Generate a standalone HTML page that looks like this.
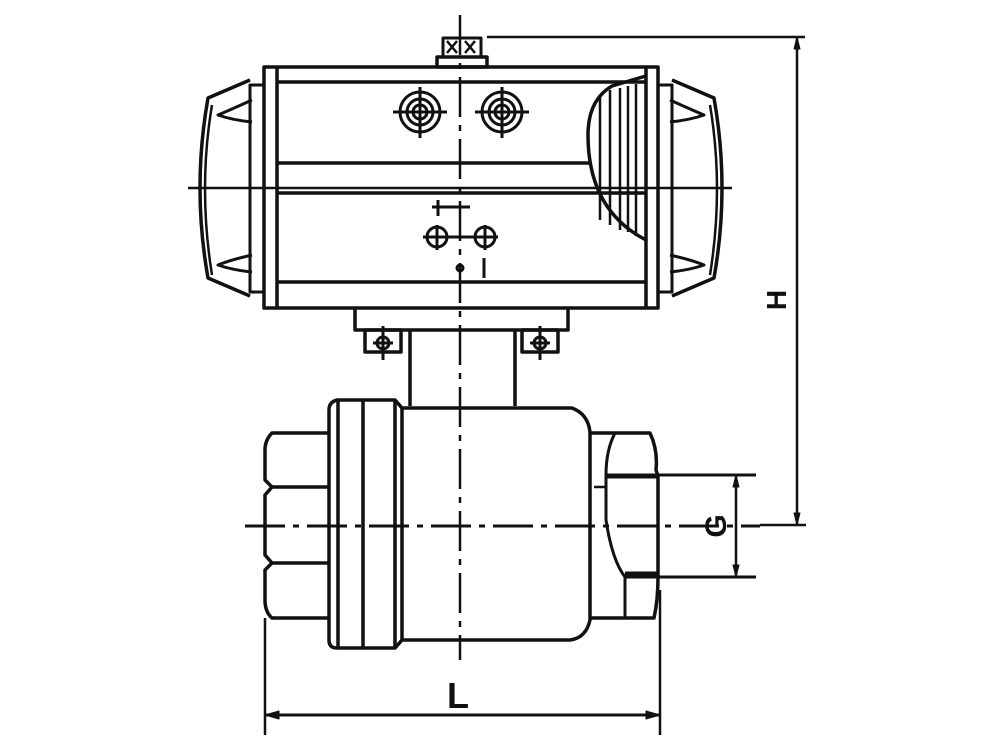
<!DOCTYPE html>
<html><head><style>html,body{margin:0;padding:0;background:#fff}svg{display:block}</style></head>
<body>
<svg width="1000" height="750" viewBox="0 0 1000 750" xmlns="http://www.w3.org/2000/svg" fill="none" stroke="#111" stroke-width="3.5" stroke-linejoin="round">
<!-- centerlines -->
<line x1="460" y1="15" x2="460" y2="660" stroke-width="2.5" stroke-dasharray="40,8,6,8"/>
<line x1="245" y1="526" x2="760" y2="526" stroke-width="3" stroke-dasharray="40,8,6,8"/>
<line x1="188" y1="188" x2="732" y2="188" stroke-width="2.5"/>
<!-- top cap -->
<rect x="437" y="57" width="50" height="10"/>
<rect x="443" y="38" width="38" height="19" stroke-width="3"/>
<path d="M447 41 L457 53 M457 41 L447 53 M465 41 L475 53 M475 41 L465 53" stroke-width="2.5"/>
<!-- H dimension -->
<line x1="487" y1="37" x2="805" y2="37" stroke-width="2.5"/>
<line x1="760" y1="525" x2="806" y2="525" stroke-width="2.5"/>
<line x1="797" y1="37" x2="797" y2="525" stroke-width="2.5"/>
<path d="M797 37 l-3 12 l6 0 z M797 525 l-3 -12 l6 0 z" fill="#111" stroke-width="1"/>
<text x="0" y="0" transform="translate(786,300) rotate(-90)" font-family="Liberation Sans, sans-serif" font-size="28" font-weight="bold" fill="#111" stroke="none" text-anchor="middle">H</text>
<!-- actuator body -->
<rect x="264" y="67" width="394" height="241"/>
<line x1="277" y1="67" x2="277" y2="308"/>
<line x1="646" y1="67" x2="646" y2="308"/>
<line x1="277" y1="82" x2="646" y2="82"/>
<line x1="277" y1="163" x2="590" y2="163"/>
<line x1="277" y1="193" x2="646" y2="193"/>
<line x1="277" y1="282" x2="646" y2="282"/>
<!-- left end cap -->
<path d="M250 80 L208 98 Q192 188 208 278 L250 296" />
<path d="M264 85 L250 85 L250 292 L264 292" stroke-width="3"/>
<path d="M252 100 Q230 110 218 115 Q232 120 252 122" stroke-width="3"/>
<path d="M252 255 Q230 260 218 265 Q232 270 252 272" stroke-width="3"/>
<path d="M212 105 Q198 188 212 275" stroke-width="2.5"/>
<!-- right end cap -->
<path d="M672 80 L714 98 Q730 188 714 278 L672 296" />
<path d="M658 85 L672 85 L672 292 L658 292" stroke-width="3"/>
<path d="M670 100 Q692 110 704 115 Q690 120 670 122" stroke-width="3"/>
<path d="M670 255 Q692 260 704 265 Q690 270 670 272" stroke-width="3"/>
<path d="M710 105 Q724 188 710 275" stroke-width="2.5"/>
<!-- cutaway -->
<path d="M646 76 L612 86 Q588 100 588 135 Q588 210 646 240" />
<path d="M600 96 L600 220 M610 90 L610 225 M620 88 L620 230 M628 86 L628 232 M636 84 L636 236" stroke-width="2.5"/>
<!-- gauges -->
<g stroke-width="3">
<circle cx="420" cy="112" r="20"/><circle cx="420" cy="112" r="13"/><circle cx="420" cy="112" r="7"/>
<line x1="393" y1="112" x2="447" y2="112"/><line x1="420" y1="87" x2="420" y2="138"/>
<circle cx="502" cy="112" r="20"/><circle cx="502" cy="112" r="13"/><circle cx="502" cy="112" r="7"/>
<line x1="475" y1="112" x2="529" y2="112"/><line x1="502" y1="87" x2="502" y2="138"/>
</g>
<!-- small symbols -->
<g stroke-width="3">
<line x1="432" y1="207" x2="470" y2="207"/><line x1="438" y1="200" x2="438" y2="216"/>
<circle cx="437" cy="237" r="10"/><line x1="423" y1="237" x2="451" y2="237"/><line x1="437" y1="225" x2="437" y2="250"/>
<circle cx="485" cy="237" r="10"/><line x1="471" y1="237" x2="498" y2="237"/><line x1="485" y1="225" x2="485" y2="250"/>
<line x1="451" y1="237" x2="471" y2="237"/>
<circle cx="460" cy="268" r="3"/><line x1="484" y1="258" x2="484" y2="278"/>
</g>
<!-- bracket -->
<path d="M355 308 L355 330 L568 330 L568 308"/>
<rect x="365" y="330" width="36" height="22"/><rect x="522" y="330" width="36" height="22"/>
<g stroke-width="3"><circle cx="383" cy="343" r="6"/><line x1="383" y1="326" x2="383" y2="360"/><line x1="373" y1="343" x2="393" y2="343"/>
<circle cx="540" cy="343" r="6"/><line x1="540" y1="326" x2="540" y2="360"/><line x1="530" y1="343" x2="550" y2="343"/></g>
<!-- stem -->
<line x1="410" y1="330" x2="410" y2="406"/><line x1="515" y1="330" x2="515" y2="406"/>
<!-- left hex -->
<path d="M329 433 L272 433 Q265 440 265 450 L265 480 L272 487 L265 495 L265 555 L272 563 L265 570 L265 600 Q265 612 272 618 L329 618"/>
<line x1="270" y1="487" x2="329" y2="487"/><line x1="270" y1="563" x2="329" y2="563"/>
<!-- flange -->
<path d="M402 408 L395 400 L337 400 Q329 402 329 410 L329 640 Q329 648 337 648 L395 648 L402 640"/>
<line x1="338" y1="400" x2="338" y2="648"/><line x1="363" y1="400" x2="363" y2="648"/><line x1="395" y1="400" x2="395" y2="648"/>
<!-- body -->
<path d="M402 408 L572 408 Q588 414 590 432 L590 620 Q586 638 570 640 L402 640 Z"/>
<!-- right end -->
<path d="M590 433 L650 433 Q658 450 656 470 L658 476 L658 577 Q658 600 654 618 L590 618"/>
<path d="M615 433 Q606 450 606 475 L606 520 Q612 560 625 577 L625 618" stroke-width="3"/>
<line x1="594" y1="487" x2="606" y2="487" stroke-width="2.5"/>
<line x1="606" y1="476" x2="658" y2="476" stroke-width="5"/>
<line x1="625" y1="574" x2="658" y2="574" stroke-width="5"/>
<!-- G dimension -->
<line x1="608" y1="475" x2="756" y2="475" stroke-width="3"/>
<line x1="625" y1="577" x2="756" y2="577" stroke-width="3"/>
<line x1="736" y1="475" x2="736" y2="577" stroke-width="2.5"/>
<path d="M736 475 l-3 12 l6 0 z M736 577 l-3 -12 l6 0 z" fill="#111" stroke-width="1"/>
<text x="0" y="0" transform="translate(718,526) rotate(-90)" font-family="Liberation Sans, sans-serif" font-size="30" font-weight="bold" fill="#111" stroke="none" text-anchor="middle" dominant-baseline="middle">G</text>
<!-- L dimension -->
<line x1="265" y1="618" x2="265" y2="735" stroke-width="2.5"/>
<line x1="660" y1="590" x2="660" y2="735" stroke-width="2.5"/>
<line x1="265" y1="715" x2="660" y2="715" stroke-width="3"/>
<path d="M265 715 l14 -4 l0 8 z M660 715 l-14 -4 l0 8 z" fill="#111" stroke-width="1"/>
<text x="458" y="708" font-family="Liberation Sans, sans-serif" font-size="36" font-weight="bold" fill="#111" stroke="none" text-anchor="middle">L</text>
</svg>
</body></html>
